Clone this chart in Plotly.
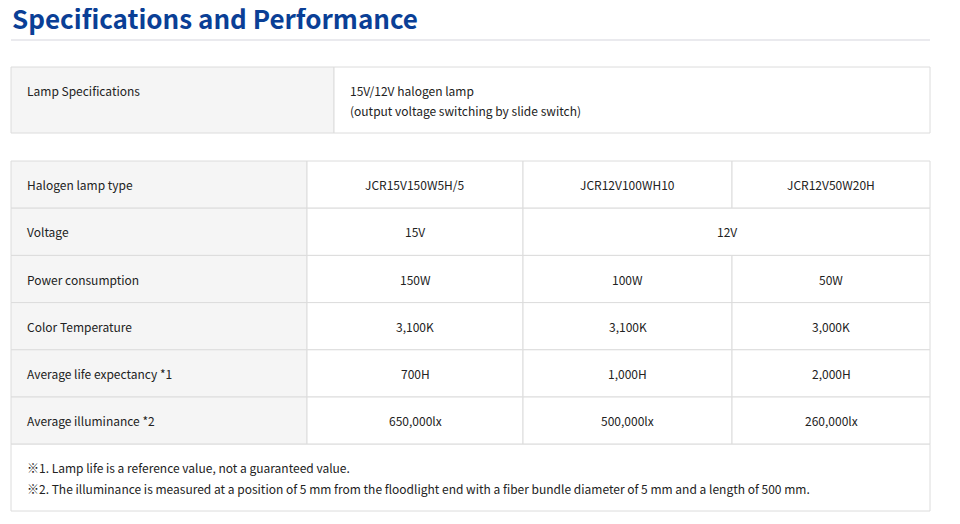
import plotly.graph_objects as go

title = "Specifications and Performance"
spec_label = "Lamp Specifications"
spec_lines = ["15V/12V halogen lamp", "(output voltage switching by slide switch)"]

row_labels = ["Halogen lamp type", "Voltage", "Power consumption", "Color Temperature",
              "Average life expectancy *1", "Average illuminance *2"]
lamp_types = ["JCR15V150W5H/5", "JCR12V100WH10", "JCR12V50W20H"]
voltage = ["15V", "12V"]
power = ["150W", "100W", "50W"]
color_temp = ["3,100K", "3,100K", "3,000K"]
life = ["700H", "1,000H", "2,000H"]
illuminance = ["650,000lx", "500,000lx", "260,000lx"]
notes = ["※1. Lamp life is a reference value, not a guaranteed value.",
         "※2. The illuminance is measured at a position of 5 mm from the floodlight end with a fiber bundle diameter of 5 mm and a length of 500 mm."]

FONT = "Noto Sans CJK JP"
BORDER = "#dcdcdc"
GRAY = "#f5f5f5"
TXT = "#222222"

fig = go.Figure()
shapes, ann = [], []

def rect(x0, y0, x1, y1, fill):
    shapes.append(dict(type="rect", x0=x0, y0=y0, x1=x1, y1=y1, fillcolor=fill,
                       line=dict(color=BORDER, width=1), layer="below"))

def text(x, y, s, anchor="left", size=12, color=TXT, bold=False):
    ann.append(dict(x=x, y=y, text=f"<b>{s}</b>" if bold else s, showarrow=False,
                    xanchor=anchor, yanchor="middle", font=dict(family=FONT, size=size, color=color)))

# title
text(10, 17, title, size=26, color="#0a3f96", bold=True)
shapes.append(dict(type="line", x0=11, x1=930, y0=40, y1=40, line=dict(color="#e3e3e8", width=1.5)))

# spec box
rect(11, 67, 334, 133, GRAY)
rect(334, 67, 930, 133, "white")
text(25, 90, spec_label)
for i, s in enumerate(spec_lines):
    text(348, 90 + i * 20, s)

# main table
cols = [11, 307, 523, 732, 930]
top, rh = 161, 47.2
data_rows = [lamp_types, voltage, power, color_temp, life, illuminance]
for r, (lab, vals) in enumerate(zip(row_labels, data_rows)):
    y0 = top + r * rh
    y1 = y0 + rh
    ym = (y0 + y1) / 2
    rect(cols[0], y0, cols[1], y1, GRAY)
    text(25, ym, lab)
    if len(vals) == 2:
        spans = [(cols[1], cols[2]), (cols[2], cols[4])]
    else:
        spans = [(cols[1], cols[2]), (cols[2], cols[3]), (cols[3], cols[4])]
    for (a, b), v in zip(spans, vals):
        rect(a, y0, b, y1, "white")
        text((a + b) / 2, ym, v, anchor="center")

yb = top + 6 * rh
rect(11, yb, 930, 511, "white")
for i, s in enumerate(notes):
    text(25, yb + 23 + i * 21, s)

# page body margin shifts the figure by 8px; offset the axis ranges to compensate
fig.update_layout(
    width=960, height=524, margin=dict(l=0, r=0, t=0, b=0),
    paper_bgcolor="white", plot_bgcolor="white",
    xaxis=dict(range=[8, 968], visible=False, fixedrange=True),
    yaxis=dict(range=[532, 8], visible=False, fixedrange=True),
    shapes=shapes, annotations=ann, showlegend=False,
)
fig.write_html("out.html")
